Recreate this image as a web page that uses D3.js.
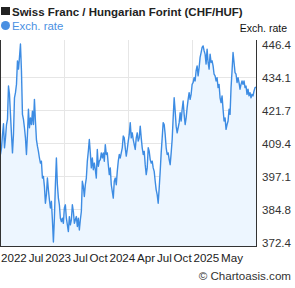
<!DOCTYPE html>
<html><head><meta charset="utf-8">
<script src="https://cdn.jsdelivr.net/npm/d3@7"></script>
<style>body{margin:0;background:#fff}svg{display:block}text{font-family:"Liberation Sans",Arial,sans-serif}</style>
</head><body><svg id="c" width="295" height="288"></svg>
<script>
const title = "Swiss Franc / Hungarian Forint (CHF/HUF)";
const seriesName = "Exch. rate";
const yTicks = [372.4, 384.8, 397.1, 409.4, 421.7, 434.1, 446.4];
const xLabels = ["2022","Jul","2023","Jul","Oct","2024","Apr","Jul","Oct","2025","May"];
const rates = [
405.1,407.6,412.6,416.6,407.6,411.3,416.3,418.2,430.7,427.6,420.1,412.6,405.7,412.6,426.3,428.2,431.3,440.1,437.0,441.4,
446.4,436.4,420.1,418.2,415.1,411.3,405.1,412.6,422.0,415.1,418.8,416.3,421.3,416.3,425.7,417.6,410.7,408.2,406.3,403.8,
401.9,402.6,396.3,396.9,393.2,386.9,390.1,396.3,391.9,388.2,385.1,387.6,380.7,372.4,381.3,393.8,403.8,393.8,388.8,386.3,
381.3,380.0,381.3,379.4,385.1,386.3,381.3,378.8,376.3,381.9,378.8,380.7,386.3,383.8,379.4,380.7,381.9,378.2,381.3,376.9,
380.7,383.8,395.1,393.2,389.4,393.8,396.3,402.6,406.3,410.7,405.7,400.1,403.8,399.4,401.9,399.4,396.3,407.0,400.7,402.6,
403.2,405.7,403.8,405.7,402.6,408.8,405.1,405.7,401.3,397.6,400.1,393.8,391.3,388.8,395.1,396.3,393.8,398.8,402.6,405.1,
403.8,405.7,407.6,412.0,411.3,407.6,404.5,407.0,410.1,412.6,417.0,411.3,413.2,410.7,408.8,407.0,411.3,413.2,410.1,411.3,
415.7,411.3,407.6,405.1,406.3,401.3,397.6,400.1,407.6,406.3,403.2,401.9,402.6,400.1,398.8,395.1,391.9,390.1,386.9,392.6,
398.8,405.7,411.3,417.0,416.3,412.6,407.6,405.1,405.7,403.2,401.3,405.7,410.7,418.8,426.3,421.3,415.7,413.2,415.1,417.0,
420.7,417.6,422.0,425.1,420.1,416.3,418.8,422.6,425.7,428.2,425.7,427.6,431.3,432.0,433.8,432.6,436.4,438.2,434.5,437.6,
441.4,443.2,445.1,445.7,443.9,442.6,438.9,444.5,439.5,437.0,442.6,439.5,440.1,438.2,435.1,434.5,432.6,433.8,430.1,431.3,
426.3,424.5,427.0,422.0,417.6,418.8,414.5,416.3,417.6,422.0,420.1,430.1,436.4,443.2,439.5,435.7,435.1,432.0,433.8,432.0,
429.5,431.3,432.6,431.3,432.6,430.1,430.7,427.6,429.5,427.0,428.2,426.3,427.6,427.0,428.8,430.1,430.3
];

const svg = d3.select("#c");
const L = 0.5, R = 256, T = 40, B = 246;
const x = d3.scaleLinear().domain([0, rates.length - 1]).range([L, R]);
const y = d3.scaleLinear().domain([d3.min(yTicks), d3.max(yTicks)]).range([242, 44]);

// grid
const g = svg.append("g");
[1,2,3].forEach(i => {
  const gx = Math.round(L + (R - L) * i / 4) + 0.5;
  g.append("line").attr("x1", gx).attr("x2", gx).attr("y1", T).attr("y2", B).attr("stroke", "#e6e6e6");
});
yTicks.slice(1, -1).forEach(v => {
  const gy = Math.round(y(v)) + 0.5;
  g.append("line").attr("x1", L).attr("x2", R).attr("y1", gy).attr("y2", gy).attr("stroke", "#e6e6e6");
});

// area + line
const area = d3.area().x((d, i) => x(i)).y0(B).y1(d => y(d));
const line = d3.line().x((d, i) => x(i)).y(d => y(d));
svg.append("path").datum(rates).attr("d", area).attr("fill", "#edf6ff");
svg.append("path").datum(rates).attr("d", line).attr("fill", "none")
  .attr("stroke", "#3d8ce3").attr("stroke-width", 1.4).attr("stroke-linejoin", "round");

// axes borders
svg.append("line").attr("x1", 0.5).attr("x2", 0.5).attr("y1", T).attr("y2", B + 0.5).attr("stroke", "#333");
svg.append("line").attr("x1", R + 0.5).attr("x2", R + 0.5).attr("y1", T).attr("y2", B + 0.5).attr("stroke", "#333");
svg.append("line").attr("x1", 0).attr("x2", R + 1).attr("y1", B + 0.5).attr("y2", B + 0.5).attr("stroke", "#333");

// right axis labels
const ya = svg.append("g").attr("transform", `translate(${R},0)`)
  .call(d3.axisRight(y).tickValues(yTicks).tickSize(0).tickPadding(6).tickFormat(d3.format(".1f")));
ya.select(".domain").remove();
ya.selectAll("text").attr("font-size", "11.6px").attr("fill", "#333").attr("dy", "0.42em")
  .style("font-family", '"Liberation Sans",Arial,sans-serif');

// x labels packed
const xl = svg.append("g").selectAll("text").data(xLabels).join("text")
  .attr("y", 261.5).attr("font-size", "11.6px").attr("fill", "#222").text(d => d);
const widths = xl.nodes().map(n => n.getComputedTextLength());
const start = 1, end = 243;
const gap = (end - start - d3.sum(widths)) / (xLabels.length - 1);
let cx = start;
xl.attr("x", (d, i) => { const v = cx; cx += widths[i] + gap; return v; });

// title
svg.append("rect").attr("x", 1).attr("y", 7).attr("width", 9).attr("height", 8).attr("fill", "#222");
svg.append("text").attr("x", 12).attr("y", 15.5).attr("font-size", "11.5px").attr("font-weight", "bold")
  .attr("fill", "#222").text(title);
// legend
svg.append("circle").attr("cx", 5.5).attr("cy", 25.5).attr("r", 4.5).attr("fill", "#4a90e2");
svg.append("text").attr("x", 12).attr("y", 29.5).attr("font-size", "11.4px").attr("fill", "#4a90e2").text(seriesName);
svg.append("text").attr("x", 287).attr("y", 31.7).attr("text-anchor", "end").attr("font-size", "10.5px")
  .attr("fill", "#111").text(seriesName);
// credit
svg.append("text").attr("x", 291).attr("y", 279.5).attr("text-anchor", "end").attr("font-size", "11.6px")
  .attr("fill", "#333").text("© Chartoasis.com");
</script></body></html>
